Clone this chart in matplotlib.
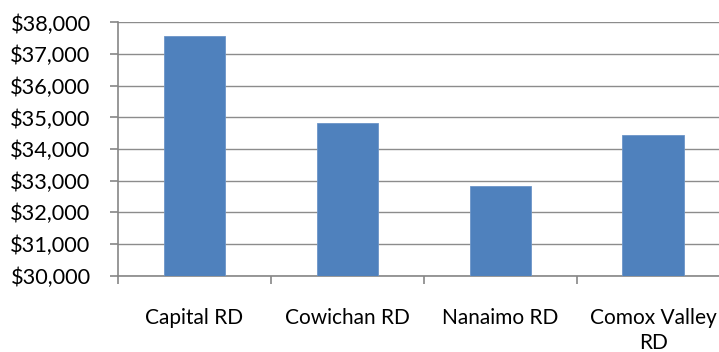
import matplotlib
matplotlib.use("Agg")
import matplotlib.pyplot as plt
from matplotlib.ticker import FuncFormatter, FixedLocator

regions = ["Capital RD", "Cowichan RD", "Nanaimo RD", "Comox Valley\nRD"]
income = [37570, 34810, 32830, 34450]
y_ticks = [30000, 31000, 32000, 33000, 34000, 35000, 36000, 37000, 38000]

plt.rcParams["font.family"] = ["Lato", "DejaVu Sans"]

fig = plt.figure(figsize=(7.19, 3.52), dpi=100)
ax = fig.add_axes([0.1637, 0.2168, 0.851, 0.7193])

x = list(range(len(regions)))
ax.bar(x, income, width=0.4, color="#4F81BD", edgecolor="#6C95C8",
       linewidth=0.6, zorder=3)

ax.set_xlim(-0.5, 3.5)
ax.set_ylim(30000, 38000)
ax.set_yticks(y_ticks)
ax.yaxis.set_major_formatter(FuncFormatter(lambda v, p: f"${v:,.0f}"))
ax.yaxis.grid(True, color="#8C8C8C", linewidth=1.0, zorder=0)
ax.set_axisbelow(True)

ax.set_xticks(x)
ax.set_xticklabels(regions, fontsize=15, linespacing=1.35)
ax.xaxis.set_minor_locator(FixedLocator([-0.5, 0.5, 1.5, 2.5, 3.5]))
ax.tick_params(axis="x", which="major", length=0, pad=23, colors="#000000")
ax.tick_params(axis="x", which="minor", length=5.5, width=1.2, color="#868686",
               direction="out")
ax.tick_params(axis="y", length=5.5, width=1.2, color="#868686", pad=14,
               labelsize=15.7)
for lbl in ax.get_yticklabels():
    lbl.set_color("#000000")

for side in ("top", "right"):
    ax.spines[side].set_visible(False)
for side in ("left", "bottom"):
    ax.spines[side].set_color("#868686")
    ax.spines[side].set_linewidth(1.2)

fig.savefig("out.png", dpi=100)
